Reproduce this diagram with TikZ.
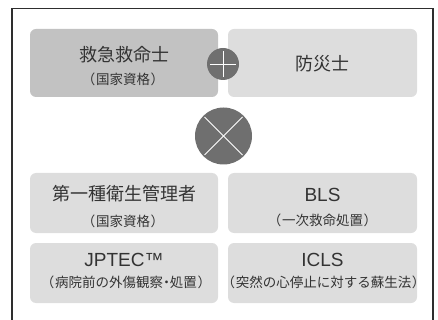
\documentclass[tikz,border=0pt]{standalone}
\usepackage{fontspec}
\setmainfont{Noto Sans CJK JP}
\newfontfamily\latinfont{Liberation Sans}
\definecolor{boxdark}{HTML}{C2C2C2}
\definecolor{boxlight}{HTML}{DDDDDD}
\definecolor{circ}{HTML}{6F6F6F}
\definecolor{txt}{HTML}{333333}
\definecolor{frame}{HTML}{2E2E2E}
\newcommand{\lp}{\kern-0.3em（\kern0.05em}
\newcommand{\rp}{\kern0.05em）\kern-0.3em}
\newcommand{\md}{\kern-0.25em・\kern-0.25em}
\begin{document}
\begin{tikzpicture}[x=1pt,y=-1pt,
  card/.style={rounded corners=6pt},
  maintext/.style={inner sep=0pt,text=txt,font=\fontsize{18}{20}\selectfont},
  latintext/.style={inner sep=0pt,text=txt,font=\latinfont\fontsize{19}{21}\selectfont},
  subtext/.style={inner sep=0pt,text=txt,font=\fontsize{13.5}{15}\selectfont},
  opcircle/.style={circle,fill=circ,inner sep=0pt},
  opline/.style={white,line width=0.9pt}]
\useasboundingbox (0,0) rectangle (438,320);
\clip (0,0) rectangle (438,320);
\draw[frame,line width=1.1pt] (12,8.5) rectangle (433,340);
% boxes
\fill[boxdark,card] (30,29) rectangle (218,97);
\fill[boxlight,card] (228,29) rectangle (417,97);
\fill[boxlight,card] (30,173) rectangle (218,233);
\fill[boxlight,card] (228,173) rectangle (417,233);
\fill[boxlight,card] (30,243) rectangle (218,303);
\fill[boxlight,card] (228,243) rectangle (417,303);
% texts
\node[maintext] (a1) at (124,55) {救急救命士};
\node[subtext] (a2) at (123,79.5) {\lp 国家資格\rp};
\node[maintext] (b1) at (322.5,64) {防災士};
\node[maintext] (c1) at (124,194) {第一種衛生管理者};
\node[subtext] (c2) at (123,221) {\lp 国家資格\rp};
\node[latintext] (d1) at (322.5,194.5) {BLS};
\node[subtext] (d2) at (322.5,220) {\lp 一次救命処置\rp};
\node[latintext] (e1) at (124,260) {JPTEC™};
\node[subtext] (e2) at (126,282) {\lp 病院前の外傷観察\md 処置\rp};
\node[latintext] (f1) at (322.5,260) {ICLS};
\node[subtext] (f2) at (323.5,282) {\lp 突然の心停止に対する蘇生法\rp};
% plus
\node[opcircle,minimum size=32pt] (plus) at (223,64) {};
\draw[opline] ([xshift=-13pt]plus.center) -- ([xshift=13pt]plus.center);
\draw[opline] ([yshift=-13pt]plus.center) -- ([yshift=13pt]plus.center);
% times
\node[opcircle,minimum size=57pt] (times) at (223.5,136) {};
\draw[opline] ([shift={(-19pt,-19pt)}]times.center) -- ([shift={(19pt,19pt)}]times.center);
\draw[opline] ([shift={(-19pt,19pt)}]times.center) -- ([shift={(19pt,-19pt)}]times.center);
\end{tikzpicture}
\end{document}
